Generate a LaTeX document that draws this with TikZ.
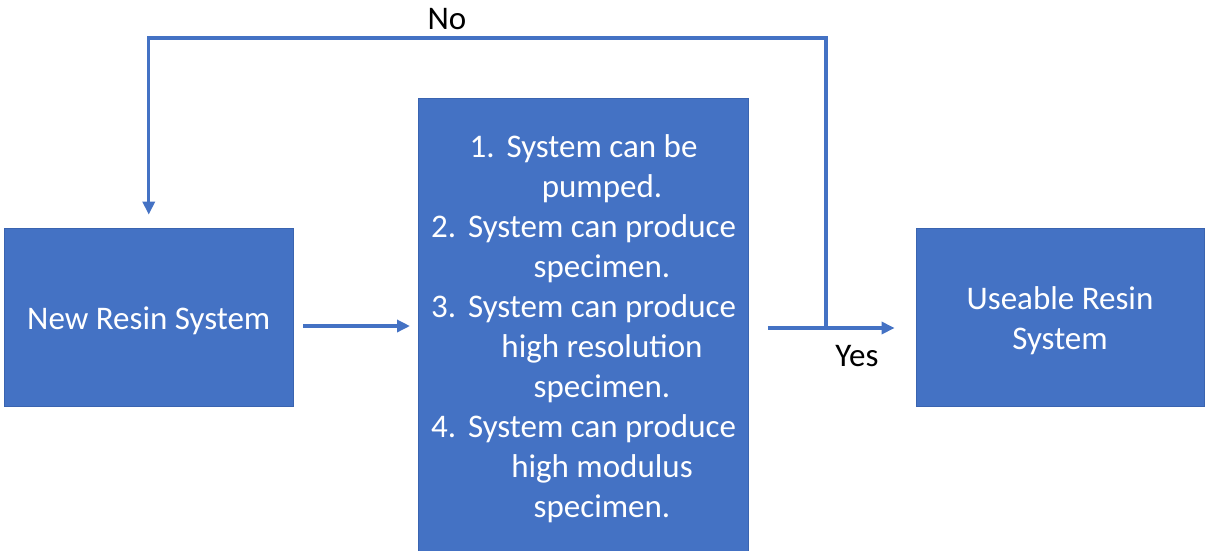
\documentclass[tikz,border=0pt]{standalone}
\usepackage{fontspec}
\setmainfont{Carlito}
\usetikzlibrary{arrows.meta}
\definecolor{accent}{HTML}{4472C4}
\definecolor{accentdark}{HTML}{3A64B0}
\begin{document}
\begin{tikzpicture}[x=1pt,y=-1pt,
  box/.style={draw=accentdark, line width=0.8pt, fill=accent, inner sep=0},
  boxtext/.style={text=white, inner sep=0, align=center, font=\fontsize{33}{40}\selectfont},
  txt/.style={text=white, font=\fontsize{33}{40}\selectfont, inner sep=0, anchor=base},
  num/.style={text=white, font=\fontsize{33}{40}\selectfont, inner sep=0, anchor=base west},
  conn/.style={draw=accent, line width=3.3pt, line join=miter, -{Triangle[length=13pt,width=12pt]}},
  lbl/.style={text=black, font=\fontsize{33}{40}\selectfont, inner sep=0}]
\useasboundingbox (0,0) rectangle (1207,550);
\node[box, minimum width=288.5pt, minimum height=178.5pt] (new) at (148.75,317.25) {};
\node[boxtext] (newt) at ([yshift=-4pt]new.center) {New Resin System};
\node[box, minimum width=330pt, minimum height=470pt, anchor=north west] (mid) at (418,98) {};
\node[box, minimum width=288pt, minimum height=178.5pt] (use) at (1060,317.25) {};
\node[boxtext] (uset) at ([yshift=-3pt]use.center) {Useable Resin\\System};
% list text
\node[txt] (l1) at (602,157) {System can be};
\node[num] (n1) at ([xshift=-37pt]l1.base west) {1.};
\node[txt] (l2) at (602,197) {pumped.};
\node[txt] (l3) at (602,237) {System can produce};
\node[num] (n2) at ([xshift=-37pt]l3.base west) {2.};
\node[txt] (l4) at (602,277) {specimen.};
\node[txt] (l5) at (602,317) {System can produce};
\node[num] (n3) at ([xshift=-37pt]l5.base west) {3.};
\node[txt] (l6) at (602,357) {high resolution};
\node[txt] (l7) at (602,397) {specimen.};
\node[txt] (l8) at (602,437) {System can produce};
\node[num] (n4) at ([xshift=-37pt]l8.base west) {4.};
\node[txt] (l9) at (602,477) {high modulus};
\node[txt] (l10) at (602,517) {specimen.};
% labels
\node[lbl] (no) at (447,19) {No};
\node[lbl] (yes) at (857,356) {Yes};
% connectors
\draw[conn, shorten <=10pt, shorten >=8pt] (new.east |- 0,326) -- (mid.west |- 0,326);
\draw[conn, shorten <=19pt, shorten >=21pt] (mid.east |- 0,328) -- (use.west |- 0,328);
\coordinate (j) at (826,328);
\draw[conn, shorten >=13pt] (j) |- (new.north |- 0,38) -- (new.north);
\end{tikzpicture}
\end{document}
